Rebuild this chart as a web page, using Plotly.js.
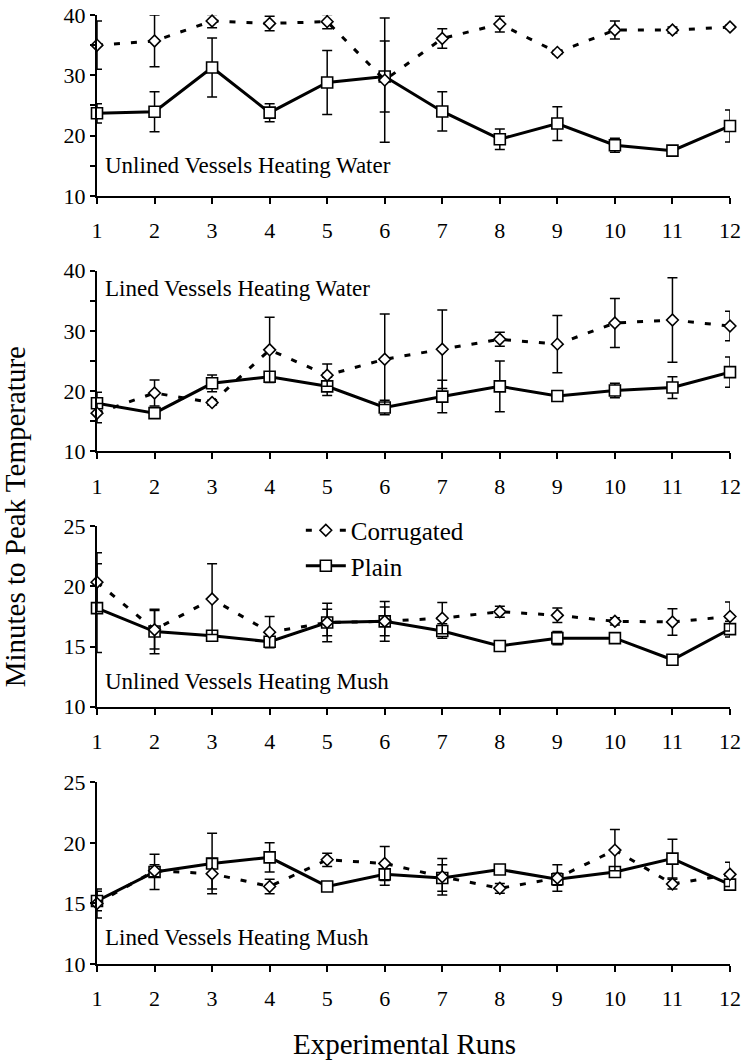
<!DOCTYPE html>
<html><head><meta charset="utf-8">
<script src="https://cdn.plot.ly/plotly-3.0.1.min.js"></script>
<style>body{margin:0;background:#fff}#c{width:742px;height:1062px}</style>
</head><body><div id="c"></div>
<script>
const runs = [1,2,3,4,5,6,7,8,9,10,11,12];
const tickLabels = ["1","2","3","4","5","6","7","8","9","10","11","12"];
const panelTitles = ["Unlined Vessels Heating Water","Lined Vessels Heating Water","Unlined Vessels Heating Mush","Lined Vessels Heating Mush"];
const seriesNames = ["Corrugated","Plain"];

// Panel 1: Unlined vessels heating water
const uwCorr    = [35.0,35.7,39.0,38.6,38.9,29.2,36.1,38.5,33.8,37.5,37.5,38.0];
const uwCorrErr = [4.0,4.3,1.1,1.2,1.2,10.3,1.6,1.3,0.3,1.5,0.5,0.3];
const uwPlain   = [23.7,23.95,31.3,23.8,28.8,29.8,24.0,19.4,22.0,18.4,17.5,21.6];
const uwPlainErr= [1.6,3.3,4.9,1.5,5.3,5.9,3.25,1.7,2.8,1.15,0.3,2.65];

// Panel 2: Lined vessels heating water
const lwCorr    = [16.35,19.7,18.1,26.85,22.65,25.3,26.95,28.6,27.8,31.3,31.8,30.8];
const lwCorrErr = [1.6,2.15,0.4,5.4,1.85,7.5,6.5,1.15,4.75,4.05,7.0,2.45];
const lwPlain   = [18.0,16.35,21.3,22.4,20.8,17.3,19.1,20.8,19.2,20.1,20.6,23.15];
const lwPlainErr= [1.8,0.5,1.4,0.5,1.5,1.2,2.7,4.2,0.4,1.2,1.8,2.5];

// Panel 3: Unlined vessels heating mush
const umCorr    = [20.36,16.4,18.95,16.2,17.0,17.1,17.36,17.9,17.6,17.1,17.05,17.5];
const umCorrErr = [2.45,1.6,2.95,1.3,1.6,1.65,1.3,0.45,0.6,0.3,1.1,1.2];
const umPlain   = [18.2,16.25,15.9,15.4,17.0,17.1,16.3,15.05,15.7,15.7,13.9,16.45];
const umPlainErr= [3.7,1.85,0.4,0.4,1.1,1.2,0.6,0.2,0.55,0.3,0.3,0.65];

// Panel 4: Lined vessels heating mush
const lmCorr    = [15.0,17.7,17.45,16.4,18.6,18.3,17.2,16.25,17.1,19.4,16.6,17.4];
const lmCorrErr = [1.2,0.5,1.25,0.6,0.55,1.4,1.5,0.4,1.1,1.7,0.4,1.0];
const lmPlain   = [15.2,17.6,18.3,18.8,16.4,17.4,17.1,17.8,17.0,17.6,18.7,16.55];
const lmPlainErr= [0.8,1.45,2.5,1.2,0.2,0.9,1.1,0.2,0.5,0.4,1.6,0.2];

const yTicks1 = [10,20,30,40];
const yTicks2 = [10,15,20,25];

const panels = [
  {c:uwCorr, ce:uwCorrErr, p:uwPlain, pe:uwPlainErr, range:[10,40], ticks:yTicks1, minor:5},
  {c:lwCorr, ce:lwCorrErr, p:lwPlain, pe:lwPlainErr, range:[10,40], ticks:yTicks1, minor:5},
  {c:umCorr, ce:umCorrErr, p:umPlain, pe:umPlainErr, range:[10,25], ticks:yTicks2, minor:null},
  {c:lmCorr, ce:lmCorrErr, p:lmPlain, pe:lmPlainErr, range:[10,25], ticks:yTicks2, minor:null}
];

const FONT = "Liberation Serif, Times New Roman, serif";
const domains = [[0.8094,1.0],[0.5401,0.7307],[0.2712,0.4611],[0.0,0.1915]];

const traces = [];
const layout = {
  width:742, height:1062,
  margin:{l:96.7, r:12, t:15, b:97.5},
  paper_bgcolor:"#fff", plot_bgcolor:"#fff",
  font:{family:FONT, color:"#000", size:22},
  showlegend:true,
  legend:{x:0.322, y:0.481, xanchor:"left", yanchor:"top", bgcolor:"rgba(0,0,0,0)",
          font:{family:FONT, size:25, color:"#000"}, tracegroupgap:0, itemwidth:40},
  annotations:[]
};

panels.forEach((pn, i) => {
  const k = i === 0 ? "" : String(i+1);
  const xa = "x"+k, ya = "y"+k;
  traces.push({
    x:runs, y:pn.p, type:"scatter", mode:"lines+markers", name:seriesNames[1],
    xaxis:xa, yaxis:ya, cliponaxis:false, showlegend:i===2, legendrank:2,
    line:{color:"#000", width:3},
    marker:{symbol:"square", size:11, color:"#fff", line:{color:"#000", width:1.6}},
    error_y:{type:"data", array:pn.pe, visible:true, color:"#000", thickness:1.5, width:5}
  });
  traces.push({
    x:runs, y:pn.c, type:"scatter", mode:"lines+markers", name:seriesNames[0],
    xaxis:xa, yaxis:ya, cliponaxis:false, showlegend:i===2, legendrank:1,
    line:{color:"#000", width:3, dash:"6px,11px"},
    marker:{symbol:"diamond", size:9, color:"#fff", line:{color:"#000", width:1.6}},
    error_y:{type:"data", array:pn.ce, visible:true, color:"#000", thickness:1.5, width:5}
  });
  layout["xaxis"+k] = {
    anchor:ya, domain:[0,1], range:[1,12], tickmode:"array", tickvals:runs, ticktext:tickLabels,
    showgrid:false, zeroline:false, showline:true, linecolor:"#000", linewidth:2,
    ticks:"outside", ticklen:6, tickwidth:2, tickcolor:"#000", ticklabelstandoff:8,
    tickfont:{family:FONT, size:22, color:"#000"}
  };
  const yax = {
    anchor:xa, domain:domains[i], range:pn.range, tickmode:"array", tickvals:pn.ticks,
    showgrid:false, zeroline:false, showline:true, linecolor:"#000", linewidth:2,
    ticks:"outside", ticklen:5, tickwidth:2, tickcolor:"#000",
    tickfont:{family:FONT, size:22, color:"#000"}
  };
  if (pn.minor) yax.minor = {dtick:pn.minor, tick0:0, ticks:"outside", ticklen:5, tickwidth:2, tickcolor:"#000", showgrid:false};
  layout["yaxis"+k] = yax;
});

// panel labels
const labelY = [15.1, 37.0, 12.1, 12.2];
panelTitles.forEach((t, i) => {
  const k = i === 0 ? "" : String(i+1);
  layout.annotations.push({
    text:t, xref:"x"+k, yref:"y"+k, x:1.1, y:labelY[i], xanchor:"left", yanchor:"middle",
    showarrow:false, font:{family:FONT, size:23, color:"#000"}
  });
});

layout.annotations.push({
  text:"Minutes to Peak Temperature", xref:"paper", yref:"paper", x:-0.129, y:0.471,
  xanchor:"center", yanchor:"middle", textangle:-90, showarrow:false,
  font:{family:FONT, size:29, color:"#000"}
});
layout.annotations.push({
  text:"Experimental Runs", xref:"paper", yref:"paper", x:0.485, y:-0.0848,
  xanchor:"center", yanchor:"middle", showarrow:false,
  font:{family:FONT, size:29, color:"#000"}
});

Plotly.newPlot("c", traces, layout, {staticPlot:true});
</script></body></html>
